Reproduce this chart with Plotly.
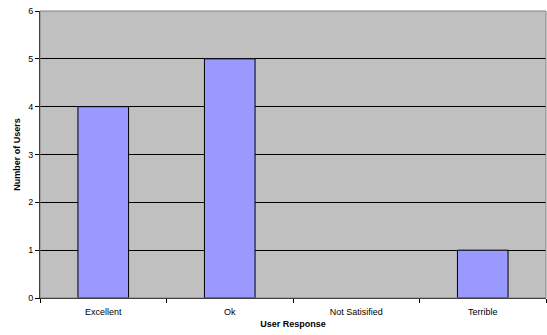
import plotly.graph_objects as go

categories = ["Excellent", "Ok", "Not Satisified", "Terrible"]
users = [4, 5, 0, 1]
y_ticks = [0, 1, 2, 3, 4, 5, 6]

fig = go.Figure()
fig.add_trace(go.Bar(
    x=categories, y=users, width=0.4,
    marker=dict(color="#9999FF",
                line=dict(color="black", width=[1 if v > 0 else 0 for v in users])),
))
font = "Liberation Sans, Arial, sans-serif"
fig.update_layout(
    width=547, height=335,
    margin=dict(l=40, r=1, t=11, b=37),
    paper_bgcolor="white", plot_bgcolor="#C0C0C0",
    showlegend=False,
    font=dict(family=font, size=9, color="black"),
    xaxis=dict(
        title=dict(text="<b>User Response</b>", font=dict(size=9), standoff=4),
        tickson="boundaries", ticks="outside", ticklen=4, tickcolor="black",
        showline=True, linecolor="black", linewidth=1, mirror=False,
        showgrid=False, range=[-0.5, 3.5], ticklabelstandoff=5,
        tickfont=dict(size=9),
    ),
    yaxis=dict(
        title=dict(text="<b>Number of Users</b>", font=dict(size=9), standoff=6),
        range=[0, 6], tickvals=y_ticks, ticks="outside", ticklen=4, tickcolor="black",
        showline=True, linecolor="black", linewidth=1,
        showgrid=True, gridcolor="black", gridwidth=1,
        zeroline=False, tickfont=dict(size=9),
    ),
)
fig.add_shape(type="rect", xref="paper", yref="paper", x0=0, x1=1, y0=0, y1=1,
              line=dict(color="#808080", width=1), layer="above")
fig.write_html("out.html")
